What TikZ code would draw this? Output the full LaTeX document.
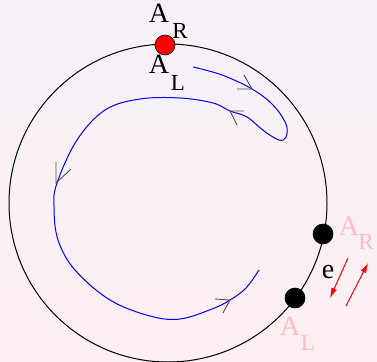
\documentclass[tikz,border=0pt]{standalone}
\usepackage{fontspec}
\setmainfont{Liberation Serif}
\usetikzlibrary{arrows.meta}

\definecolor{bgtop}{RGB}{246,241,248}
\definecolor{bgbot}{RGB}{253,240,243}
\definecolor{pinklbl}{RGB}{255,190,190}
\definecolor{markgray}{RGB}{80,80,80}

\begin{document}
\begin{tikzpicture}[
    x=1pt, y=-1pt,
    >=Latex,
    lbl/.style={inner sep=0pt, anchor=base, font=\fontsize{28}{30}\selectfont},
    sub/.style={inner sep=0pt, anchor=base, font=\fontsize{23}{25}\selectfont},
    plbl/.style={lbl, text=pinklbl},
    psub/.style={sub, text=pinklbl},
    dot/.style={circle, draw=black, line width=0.6pt, inner sep=0pt, minimum size=20pt},
    loopline/.style={blue, line width=1pt},
    dirmark/.style={markgray, line width=0.9pt},
    swap/.style={red, line width=1pt, -{Latex[length=10pt,width=6pt]}}
]

% =========================================================
% background and frame
% =========================================================
\useasboundingbox (0,0) rectangle (377,361);
\shade[top color=bgtop, bottom color=bgbot] (0,0) rectangle (377,361);

\coordinate (ctr) at (168,203);
\draw[line width=1pt] (ctr) circle[radius=159];

% =========================================================
% endpoints on the circle
% =========================================================
\node[dot, fill=red] (top) at (165,45) {};
\node[dot, fill=black] (right) at (323,234) {};
\node[dot, fill=black] (low) at (295,298) {};

\node[lbl] (aTop) at (159,23) {A};
\node[sub] (rTop) at (180,39) {R};
\node[lbl] (aBot) at (159,74) {A};
\node[sub] (lBot) at (178,90) {L};

\node[plbl] (aRight) at (349,235) {A};
\node[psub] (rRight) at (366,249) {R};
\node[plbl] (aLow) at (290,335) {A};
\node[psub] (lLow) at (308,350) {L};

% =========================================================
% blue loop
% =========================================================
\draw[loopline] plot[smooth, tension=0.6] coordinates {
    (193,67) (222,75) (252,89) (273,105) (286,124) (286,137) (279,140)
    (264,131) (247,117) (230,111) (213,103) (180,98) (140,99)
    (105,110) (77,140) (57,183) (54,207) (58,240) (75,270)
    (110,300) (150,316) (180,319) (212,309) (230,300) (246,288) (259,270)};

% direction marks
\draw[dirmark] (237,89) -- (252,89) -- (244,75);
\draw[dirmark] (244,111) -- (230,111) -- (237,125);
\draw[dirmark] (56,162) -- (56,183) -- (71,169);
\draw[dirmark] (215,299) -- (230,300) -- (223,313);

% =========================================================
% exchange arrows
% =========================================================
\node[lbl] (eLbl) at (328,278) {e};
\coordinate (dnA) at (348,258);
\coordinate (dnB) at (330,298);
\coordinate (upA) at (346,306);
\coordinate (upB) at (368,263);
\draw[swap] (dnA) -- (dnB);
\draw[swap] (upA) -- (upB);

\end{tikzpicture}
\end{document}
